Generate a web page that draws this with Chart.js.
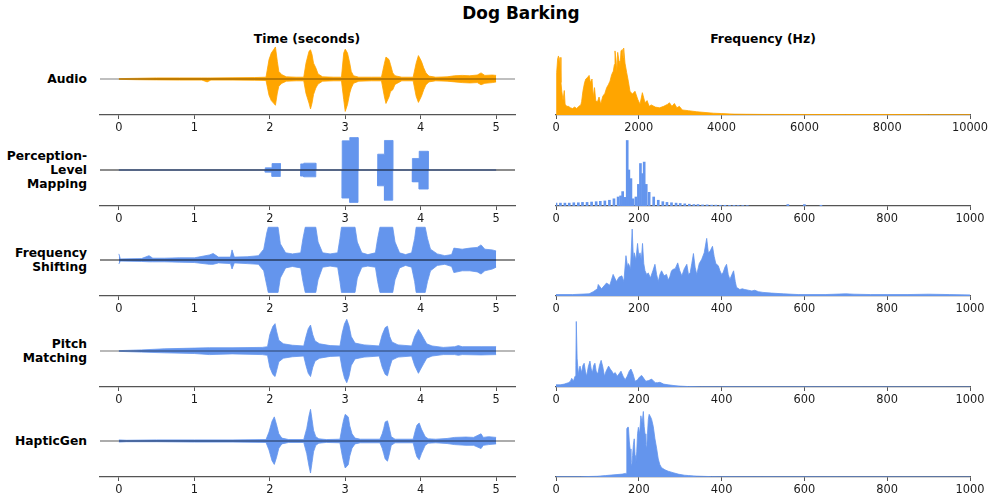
<!DOCTYPE html>
<html>
<head>
<meta charset="utf-8">
<script src="https://cdn.jsdelivr.net/npm/chart.js@4.4.1/dist/chart.umd.min.js"></script>
<style>
  body { margin: 0; width: 997px; height: 501px; background: #fff; position: relative; overflow: hidden; font-family: 'DejaVu Sans', sans-serif; color: #000; }
  .box { position: absolute; }
  .txt { position: absolute; font-weight: bold; white-space: nowrap; transform: translate(-50%, -50%); }
  .lbl { position: absolute; left: 0; width: 87px; text-align: right; font-weight: bold; font-size: 12.3px; line-height: 14px; }
</style>
</head>
<body>
<div class="txt" style="left:521px; top:13px; font-size:16.9px;">Dog Barking</div>
<div class="txt" style="left:307px; top:38px; font-size:12.4px;">Time (seconds)</div>
<div class="txt" style="left:763px; top:38px; font-size:12.4px;">Frequency (Hz)</div>
<div id="labels"></div>

<script>
// tick labels
const timeTicks = [0, 1, 2, 3, 4, 5];
const audioFreqTicks = [0, 2000, 4000, 6000, 8000, 10000];
const freqTicks = [0, 200, 400, 600, 800, 1000];

// row names
const rowNames = [['Audio'], ['Perception-', 'Level', 'Mapping'], ['Frequency', 'Shifting'], ['Pitch', 'Matching'], ['HapticGen']];

// waveforms: [time s, upper envelope, lower envelope] (normalised amplitude)
const audioWave = [
  [0, .01, .01], [0.25, .02, .02], [0.5, .03, .025], [0.8, .03, .03], [1.1, .03, .03], [1.17, .03, .08], [1.22, .03, .03],
  [1.5, .035, .03], [1.8, .04, .035], [1.95, .05, .04], [1.99, .54, .45], [2.02, .72, .6], [2.05, .81, .67], [2.075, .89, .73],
  [2.1, .49, .39], [2.12, .21, .2], [2.16, .12, .12], [2.22, .06, .06], [2.35, .05, .05], [2.45, .05, .05], [2.48, .44, .4],
  [2.52, .77, .67], [2.54, .81, .83], [2.56, .68, .67], [2.58, .44, .43], [2.61, .31, .25], [2.64, .14, .14], [2.7, .06, .06],
  [2.85, .05, .05], [2.95, .05, .05], [2.98, .72, .57], [3.0, .83, .9], [3.03, .72, .71], [3.06, .44, .39], [3.08, .21, .25],
  [3.11, .09, .12], [3.18, .05, .06], [3.35, .05, .05], [3.48, .05, .05], [3.52, .44, .5], [3.54, .61, .68], [3.58, .54, .5],
  [3.6, .4, .35], [3.63, .17, .3], [3.66, .09, .15], [3.75, .05, .05], [3.9, .05, .05], [3.94, .44, .48], [3.97, .65, .65],
  [4.01, .49, .48], [4.04, .31, .3], [4.07, .17, .16], [4.11, .08, .08], [4.2, .05, .05], [4.35, .06, .06], [4.45, .09, .08],
  [4.55, .1, .1], [4.65, .09, .11], [4.75, .11, .1], [4.8, .17, .16], [4.85, .1, .12], [4.95, .11, .1], [5.0, .1, .08]
];
const perceptionWave = [
  [0, 0, 0], [1.94, 0, 0], [1.94, .06, .06], [2.03, .06, .06], [2.03, .18, .18], [2.14, .18, .18], [2.14, 0, 0],
  [2.41, 0, 0], [2.41, .17, .17], [2.45, .17, .17], [2.45, .19, .19], [2.61, .19, .19], [2.61, 0, 0],
  [2.96, 0, 0], [2.96, .81, .78], [3.06, .81, .78], [3.06, .9, .9], [3.17, .9, .9], [3.17, 0, 0],
  [3.43, 0, 0], [3.43, .44, .44], [3.52, .44, .44], [3.52, .82, .84], [3.63, .82, .84], [3.63, 0, 0],
  [3.89, 0, 0], [3.89, .32, .33], [3.98, .32, .33], [3.98, .52, .53], [4.1, .52, .53], [4.1, 0, 0], [5.0, 0, 0]
];
const freqShiftWave = [
  [0, .17, .11], [0.02, .03, .03], [0.3, .04, .04], [0.4, .12, .05], [0.45, .05, .05], [0.6, .05, .05], [0.8, .06, .06],
  [1.0, .06, .07], [1.2, .14, .12], [1.25, .18, .12], [1.32, .08, .08], [1.48, .08, .1], [1.5, .28, .25], [1.53, .08, .08],
  [1.7, .09, .1], [1.85, .12, .12], [1.92, .3, .3], [1.96, .75, .7], [1.98, .91, .9], [2.11, .91, .9], [2.14, .45, .5],
  [2.21, .2, .22], [2.3, .17, .18], [2.41, .2, .22], [2.44, .6, .6], [2.47, .91, .9], [2.61, .91, .9], [2.64, .5, .55],
  [2.7, .2, .2], [2.8, .17, .17], [2.9, .2, .2], [2.93, .6, .6], [2.95, .91, .9], [3.13, .91, .9], [3.16, .5, .5],
  [3.22, .2, .2], [3.3, .15, .17], [3.4, .2, .2], [3.43, .6, .6], [3.46, .91, .9], [3.63, .91, .9], [3.66, .5, .55],
  [3.72, .2, .22], [3.8, .15, .15], [3.88, .2, .2], [3.92, .6, .6], [3.94, .91, .9], [4.06, .91, .9], [4.09, .6, .6],
  [4.13, .3, .3], [4.22, .17, .15], [4.32, .12, .12], [4.41, .15, .18], [4.44, .33, .35], [4.55, .3, .3], [4.65, .33, .3],
  [4.75, .35, .33], [4.8, .42, .39], [4.85, .3, .3], [4.95, .28, .25], [5.0, .25, .2]
];
const pitchWave = [
  [0, .01, .01], [0.3, .03, .03], [0.6, .06, .05], [1.0, .08, .07], [1.2, .09, .1], [1.5, .09, .08], [1.9, .1, .1],
  [1.97, .12, .12], [2.0, .45, .45], [2.04, .68, .65], [2.07, .76, .71], [2.09, .55, .55], [2.12, .3, .3], [2.18, .2, .2],
  [2.3, .16, .16], [2.45, .14, .14], [2.48, .4, .4], [2.51, .62, .62], [2.54, .72, .71], [2.57, .45, .45], [2.6, .28, .28],
  [2.66, .2, .2], [2.8, .15, .15], [2.93, .14, .14], [2.96, .5, .5], [2.99, .75, .75], [3.02, .88, .88], [3.05, .7, .7],
  [3.08, .4, .4], [3.13, .22, .22], [3.25, .17, .17], [3.45, .14, .14], [3.49, .45, .45], [3.53, .65, .65], [3.56, .69, .69],
  [3.59, .4, .45], [3.62, .25, .25], [3.7, .17, .17], [3.88, .14, .14], [3.92, .4, .4], [3.97, .6, .62], [4.0, .5, .5],
  [4.04, .35, .35], [4.08, .2, .2], [4.15, .14, .14], [4.3, .1, .1], [4.45, .12, .1], [4.5, .15, .12], [4.55, .12, .1],
  [4.8, .12, .11], [5.0, .12, .1]
];
const hapticWave = [
  [0, .03, .03], [0.1, .02, .02], [0.5, .03, .02], [1.0, .03, .03], [1.5, .03, .03], [1.95, .04, .04], [1.99, .25, .25],
  [2.03, .55, .55], [2.06, .67, .65], [2.09, .45, .45], [2.12, .2, .2], [2.16, .08, .08], [2.25, .04, .04], [2.45, .04, .04],
  [2.49, .35, .35], [2.52, .7, .7], [2.54, .88, .89], [2.56, .6, .6], [2.58, .3, .3], [2.61, .12, .12], [2.65, .06, .06],
  [2.75, .04, .04], [2.93, .05, .05], [2.96, .4, .4], [2.98, .6, .6], [3.0, .74, .75], [3.04, .67, .66], [3.06, .42, .42],
  [3.09, .2, .2], [3.13, .08, .08], [3.2, .05, .05], [3.46, .05, .05], [3.49, .2, .2], [3.51, .35, .35], [3.53, .53, .5],
  [3.56, .56, .56], [3.58, .4, .4], [3.61, .12, .12], [3.66, .05, .05], [3.9, .05, .05], [3.93, .3, .3], [3.95, .44, .44],
  [3.98, .5, .52], [4.01, .33, .35], [4.06, .12, .12], [4.1, .06, .06], [4.2, .05, .05], [4.35, .07, .07], [4.45, .1, .1],
  [4.6, .11, .12], [4.7, .1, .12], [4.8, .2, .21], [4.83, .1, .12], [4.9, .12, .1], [5.0, .1, .08]
];

// spectra: [frequency Hz, magnitude] (normalised)
const audioSpec = [
  [0, 0], [16, .59], [40, .78], [60, .82], [80, .7], [97, .8], [120, .45], [140, .33], [170, .2], [200, .34], [220, .15],
  [260, .12], [300, .12], [350, .1], [400, .09], [450, .11], [500, .09], [550, .12], [600, .14], [620, .19], [650, .33],
  [690, .45], [720, .5], [760, .52], [800, .55], [830, .45], [870, .5], [900, .25], [930, .38], [960, .2], [1000, .18],
  [1040, .25], [1080, .15], [1130, .26], [1180, .3], [1224, .38], [1264, .42], [1304, .47], [1344, .56], [1385, .61],
  [1410, .7], [1425, .89], [1449, .77], [1470, .6], [1490, .87], [1522, .75], [1545, .65], [1570, .89], [1602, .91],
  [1620, .8], [1634, .93], [1667, .72], [1707, .59], [1747, .47], [1787, .33], [1844, .29], [1908, .33], [1973, .22],
  [2029, .15], [2086, .31], [2150, .17], [2200, .2], [2250, .12], [2300, .14], [2400, .11], [2500, .1], [2600, .12],
  [2700, .15], [2740, .17], [2800, .12], [2860, .16], [2920, .1], [2980, .12], [3050, .07], [3200, .06], [3400, .045],
  [3600, .035], [3800, .025], [4000, .02], [4300, .012], [4600, .01], [5000, .008], [6000, .007], [7000, .006],
  [8000, .007], [9000, .005], [10000, .004]
];
const perceptionSpec = [
  [0, .04], [10.7, .04], [21.5, .04], [32, .04], [43, .045], [54, .045], [64, .05], [75, .05], [86, .055], [97, .06],
  [107, .065], [118, .07], [129, .08], [140, .1], [150, .125], [156, .14], [161, .2], [166, .12], [172, .91], [176, .5],
  [181, .38], [186, .1], [193, .125], [199, .3], [204, .59], [209, .45], [213, .61], [218, .3], [225, .19], [236, .125],
  [247, .08], [258, .06], [268, .05], [279, .045], [290, .04], [300, .035], [311, .03], [322, .025], [333, .02],
  [343, .02], [354, .015], [365, .015], [376, .012], [386, .012], [397, .01], [408, .01], [419, .008], [430, .008],
  [440, .006], [451, .006], [462, .005], [560, .02], [600, .02], [640, .01]
];
const freqShiftSpec = [
  [0, .02], [40, .02], [80, .03], [90, .06], [100, .1], [102, .16], [110, .1], [122, .18], [130, .15], [138, .3],
  [146, .2], [152, .26], [159, .28], [164, .2], [169, .56], [173, .4], [175, .45], [180, .38], [184, .93], [187, .5],
  [189, .6], [193, .5], [197, .73], [200, .55], [203, .6], [206, .5], [209, .73], [212, .45], [215, .35], [219, .3],
  [223, .32], [228, .25], [234, .35], [239, .44], [243, .3], [247, .2], [251, .3], [255, .35], [261, .28], [267, .3],
  [271, .22], [275, .27], [279, .35], [283, .37], [288, .38], [294, .46], [299, .35], [304, .28], [310, .38], [316, .44],
  [320, .3], [324, .32], [328, .45], [332, .59], [336, .4], [340, .3], [346, .45], [352, .51], [358, .6], [364, .8],
  [368, .6], [372, .62], [378, .69], [382, .55], [386, .45], [392, .42], [396, .35], [400, .3], [404, .33], [408, .4],
  [412, .44], [416, .3], [420, .23], [425, .3], [429, .35], [433, .2], [436, .12], [444, .09], [450, .1], [456, .09],
  [465, .08], [473, .07], [480, .08], [489, .06], [500, .05], [521, .04], [550, .03], [585, .02], [650, .02], [700, .03],
  [720, .025], [760, .02], [800, .02], [850, .02], [900, .025], [950, .02], [1000, .015]
];
const pitchSpec = [
  [0, .03], [10, .03], [20, .04], [30, .06], [35, .08], [38, .12], [42, .08], [46, .15], [48, .3], [49, .91], [50, .91],
  [51, .4], [54, .17], [56, .25], [58, .29], [62, .2], [65, .3], [68, .33], [71, .22], [74, .15], [78, .28], [82, .36],
  [85, .25], [88, .2], [91, .3], [94, .33], [97, .22], [101, .18], [105, .3], [109, .37], [113, .28], [117, .15],
  [121, .22], [127, .29], [131, .25], [135, .22], [139, .18], [143, .2], [148, .15], [152, .18], [157, .22], [162, .15],
  [167, .1], [172, .15], [177, .22], [181, .25], [186, .18], [191, .08], [197, .1], [202, .14], [207, .16], [212, .12],
  [217, .08], [224, .09], [231, .11], [236, .08], [240, .06], [245, .06], [251, .065], [260, .04], [271, .03], [285, .02],
  [300, .012], [320, .006], [350, .003], [400, .002], [1000, .001]
];
const hapticSpec = [
  [0, .003], [60, .004], [100, .01], [120, .02], [140, .03], [160, .04], [168, .05], [170, .05], [171, .67], [173, .69],
  [175, .69], [177, .5], [179, .39], [181, .2], [183, .15], [185, .3], [187, .45], [189, .53], [191, .3], [193, .2],
  [195, .35], [197, .6], [199, .69], [202, .6], [205, .85], [208, .75], [211, .91], [213, .7], [215, .6], [217, .45],
  [219, .4], [221, .6], [223, .8], [225, .87], [228, .84], [231, .8], [235, .7], [239, .53], [243, .4], [247, .25],
  [251, .17], [255, .13], [263, .1], [271, .08], [283, .06], [295, .04], [310, .025], [320, .02], [340, .012], [376, .005],
  [400, .003], [500, .002], [1000, .001]
];

const ORANGE = '#FFA500';
const BLUE = '#6495ED';

const rows = [
  { wave: audioWave, spec: audioSpec, color: ORANGE, fmax: 10000, fticks: audioFreqTicks, zero: 'rgba(0,0,0,0.5)' },
  { wave: perceptionWave, spec: perceptionSpec, color: BLUE, fmax: 1000, fticks: freqTicks, zero: 'rgba(0,0,0,0.9)', bars: true },
  { wave: freqShiftWave, spec: freqShiftSpec, color: BLUE, fmax: 1000, fticks: freqTicks, zero: 'rgba(0,0,0,0.9)' },
  { wave: pitchWave, spec: pitchSpec, color: BLUE, fmax: 1000, fticks: freqTicks, zero: 'rgba(0,0,0,0.55)' },
  { wave: hapticWave, spec: hapticSpec, color: BLUE, fmax: 1000, fticks: freqTicks, zero: 'rgba(0,0,0,0.65)' }
];

const rowBottoms = [115, 205.5, 296, 386.5, 477];
const PLOT_H = 72, AXIS_H = 22, TOP_PAD = 4;

function xAxis(min, max, ticks) {
  return {
    type: 'linear', min: min, max: max, offset: false,
    afterBuildTicks: s => { s.ticks = ticks.map(v => ({ value: v })); },
    afterFit: s => { s.height = AXIS_H; },
    ticks: {
      callback: v => String(v), color: '#1a1a1a', padding: 2, maxRotation: 0, autoSkip: false,
      font: { family: 'DejaVu Sans', size: 11.4 }
    },
    grid: { drawOnChartArea: false, drawTicks: true, tickLength: 4, color: '#555', lineWidth: 1, offset: false },
    border: { display: true, color: '#555', width: 1.3 }
  };
}

function makeBox(left, top, width, height) {
  const div = document.createElement('div');
  div.className = 'box';
  div.style.left = left + 'px';
  div.style.top = top + 'px';
  const cv = document.createElement('canvas');
  cv.width = width;
  cv.height = height;
  div.appendChild(cv);
  document.body.appendChild(div);
  return cv;
}

function baseOptions(xScale, yMin, yMax, padL, padR) {
  return {
    responsive: false,
    animation: false,
    layout: { padding: { left: padL, right: padR, top: TOP_PAD, bottom: 0 } },
    plugins: { legend: { display: false }, tooltip: { enabled: false } },
    elements: { point: { radius: 0 }, line: { tension: 0 } },
    scales: { x: xScale, y: { display: false, min: yMin, max: yMax } }
  };
}

rows.forEach((r, i) => {
  const top = rowBottoms[i] - PLOT_H - TOP_PAD;
  const h = TOP_PAD + PLOT_H + AXIS_H;

  // time signal
  const cvL = makeBox(90, top, 435, h);
  new Chart(cvL, {
    type: 'line',
    data: {
      datasets: [
        { data: [{ x: -0.25, y: 0 }, { x: 5.25, y: 0 }], borderColor: r.zero, borderWidth: 1.1, fill: false, order: 0 },
        { data: r.wave.map(p => ({ x: p[0], y: p[1] })), borderColor: r.color, backgroundColor: r.color, borderWidth: 0.8, fill: 'origin', order: 1 },
        { data: r.wave.map(p => ({ x: p[0], y: -p[2] })), borderColor: r.color, backgroundColor: r.color, borderWidth: 0.8, fill: 'origin', order: 1 }
      ]
    },
    options: baseOptions(xAxis(-0.25, 5.25, timeTicks), -1, 1, 10, 10)
  });

  // spectrum
  const cvR = makeBox(540, top, 457, h);
  const specData = r.spec.map(p => ({ x: p[0], y: p[1] }));
  const ds = r.bars
    ? { type: 'bar', data: specData, backgroundColor: r.color, barThickness: 2 }
    : { type: 'line', data: specData, borderColor: r.color, backgroundColor: r.color, borderWidth: 0.8, fill: 'origin' };
  new Chart(cvR, {
    type: r.bars ? 'bar' : 'line',
    data: { datasets: [ds] },
    options: baseOptions(xAxis(0, r.fmax, r.fticks), 0, 1, 16, 27)
  });

  // row label
  const lbl = document.createElement('div');
  lbl.className = 'lbl';
  lbl.innerHTML = rowNames[i].join('<br>');
  lbl.style.top = (rowBottoms[i] - PLOT_H / 2 - rowNames[i].length * 7) + 'px';
  document.getElementById('labels').appendChild(lbl);
});
</script>
</body>
</html>
